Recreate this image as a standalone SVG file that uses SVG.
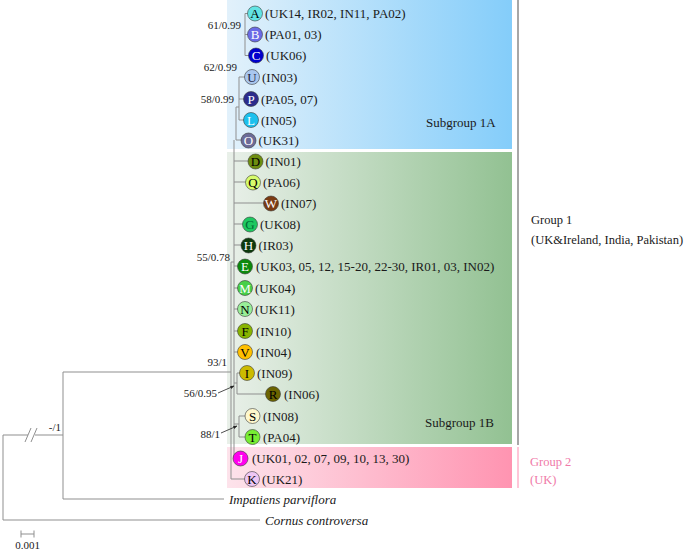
<svg xmlns="http://www.w3.org/2000/svg" width="685" height="551" viewBox="0 0 685 551">
<defs>
<linearGradient id="gBlue" x1="0" y1="0" x2="1" y2="0"><stop offset="0" stop-color="#e2f1fb"/><stop offset="1" stop-color="#84cdfa"/></linearGradient>
<linearGradient id="gGreen" x1="0" y1="0" x2="1" y2="0"><stop offset="0" stop-color="#e9f0e9"/><stop offset="1" stop-color="#92c192"/></linearGradient>
<linearGradient id="gPink" x1="0" y1="0" x2="1" y2="0"><stop offset="0" stop-color="#fde3eb"/><stop offset="1" stop-color="#ff94b1"/></linearGradient>
<marker id="arr" viewBox="0 0 10 10" refX="9" refY="5" markerWidth="5" markerHeight="5" orient="auto"><path d="M0,1 L10,5 L0,9 z" fill="#222"/></marker>
</defs>
<style>
text{font-family:"Liberation Serif","Times New Roman",serif;}
.t{font-size:13px;fill:#1a1a1a;}
.s{font-size:11px;fill:#1a1a1a;}
.g{font-size:12.5px;fill:#1a1a1a;}
.it{font-size:13px;font-style:italic;fill:#1a1a1a;}
.c{stroke:#3a3a3a;stroke-width:0.6;}
.l{font-size:13px;text-anchor:middle;}
.w{fill:#fff;}
.k{fill:#000;}
.br{stroke:#8f8f8f;stroke-width:1;fill:none;}
.ar{stroke:#222;stroke-width:0.8;fill:none;}
</style>
<rect x="0" y="0" width="685" height="551" fill="#fff"/>
<g id="boxes">
<rect x="227" y="0" width="285" height="149" fill="url(#gBlue)"/>
<rect x="227" y="152" width="285" height="292" fill="url(#gGreen)"/>
<rect x="227" y="447" width="285" height="41" fill="url(#gPink)"/>
</g>
<g id="groupbars">
<line x1="518" y1="0" x2="518" y2="445" stroke="#8a8a8a" stroke-width="1.5"/>
<line x1="518" y1="447" x2="518" y2="488" stroke="#ffb3cb" stroke-width="1.5"/>
</g>
<g id="connectors">
<path class="br" d="M245,13.5 V55.5 M245,13.5 H248 M245,34.5 H248 M245,55.5 H249"/>
<path class="br" d="M239,77 V120 M239,77 H245 M239,99 H244 M239,120 H244"/>
<path class="br" d="M236,107 V140 M236,107 H239 M236,140 H242"/>
<path class="br" d="M234,140 V458 M234,161 H248 M234,182 H246 M234,203 H264 M234,224 H243 M234,245 H241 M234,266 H238 M234,288 H238 M234,309 H238 M234,331 H238 M234,352 H238"/>
<path class="br" d="M231,262 V479 M231,479 H245 M231,262 H234"/>
<path class="br" d="M237,373 V394 M234,383 H237 M237,373 H240 M237,394 H266"/>
<path class="br" d="M239,416 V437 M234,424 H239 M239,416 H246 M239,437 H246"/>
<path class="br" d="M63,372 H231 M63,372 V499 M63,499 H224"/>
<path class="br" d="M3,435 V520 M3,435 H28 M35,435 H63 M3,520 H260"/>
<path class="br" d="M25,442 L31,428 M31,442 L37,428"/>
<path class="br" d="M21,534 H34 M21,530.5 V537.5 M34,530.5 V537.5"/>
<line class="ar" x1="218" y1="393" x2="234" y2="386" marker-end="url(#arr)"/>
<line class="ar" x1="221" y1="433" x2="237" y2="426" marker-end="url(#arr)"/>
</g>
<g id="support">
<text class="s" x="241" y="29" text-anchor="end">61/0.99</text>
<text class="s" x="237" y="71" text-anchor="end">62/0.99</text>
<text class="s" x="234" y="103" text-anchor="end">58/0.99</text>
<text class="s" x="230" y="261" text-anchor="end">55/0.78</text>
<text class="s" x="227" y="366" text-anchor="end">93/1</text>
<text class="s" x="217" y="397" text-anchor="end">56/0.95</text>
<text class="s" x="220" y="438" text-anchor="end">88/1</text>
<text class="s" x="61" y="431" text-anchor="end">-/1</text>
<text class="s" x="27.5" y="549" text-anchor="middle">0.001</text>
</g>
<g id="node-A"><circle class="c" cx="255" cy="13.5" r="7.5" fill="#62e4e4"/><text class="l k" x="255" y="18">A</text><text class="t" x="265" y="18">(UK14, IR02, IN11, PA02)</text></g>
<g id="node-B"><circle class="c" cx="255" cy="34.5" r="7.5" fill="#6b6be6"/><text class="l w" x="255" y="39">B</text><text class="t" x="265" y="39">(PA01, 03)</text></g>
<g id="node-C"><circle class="c" cx="256" cy="55.5" r="7.5" fill="#0000cc"/><text class="l w" x="256" y="60">C</text><text class="t" x="266" y="60">(UK06)</text></g>
<g id="node-U"><circle class="c" cx="252" cy="77" r="7.5" fill="#a9c7ef"/><text class="l" x="252" y="81.5" fill="#1a1a40">U</text><text class="t" x="262" y="81.5">(IN03)</text></g>
<g id="node-P"><circle class="c" cx="251" cy="99" r="7.5" fill="#2b2b8c"/><text class="l w" x="251" y="103.5">P</text><text class="t" x="261" y="103.5">(PA05, 07)</text></g>
<g id="node-L"><circle class="c" cx="251" cy="120" r="7.5" fill="#1cc0ee"/><text class="l w" x="251" y="124.5">L</text><text class="t" x="261" y="124.5">(IN05)</text></g>
<g id="node-O"><circle class="c" cx="248.5" cy="140.5" r="7.5" fill="#6b6b98"/><text class="l w" x="248.5" y="145">O</text><text class="t" x="258.5" y="145">(UK31)</text></g>
<g id="node-D"><circle class="c" cx="255.5" cy="161.5" r="7.5" fill="#6e8e10"/><text class="l k" x="255.5" y="166">D</text><text class="t" x="265.5" y="166">(IN01)</text></g>
<g id="node-Q"><circle class="c" cx="253" cy="182.5" r="7.5" fill="#d6fb6c"/><text class="l k" x="253" y="187">Q</text><text class="t" x="263" y="187">(PA06)</text></g>
<g id="node-W"><circle class="c" cx="271" cy="203.5" r="7.5" fill="#7a3b12"/><text class="l w" x="271" y="208">W</text><text class="t" x="281" y="208">(IN07)</text></g>
<g id="node-G"><circle class="c" cx="250" cy="224.5" r="7.5" fill="#1ec860"/><text class="l" x="250" y="229" fill="#063">G</text><text class="t" x="260" y="229">(UK08)</text></g>
<g id="node-H"><circle class="c" cx="248.5" cy="245.5" r="7.5" fill="#0c3a0c"/><text class="l w" x="248.5" y="250">H</text><text class="t" x="258.5" y="250">(IR03)</text></g>
<g id="node-E"><circle class="c" cx="245" cy="266.5" r="7.5" fill="#0c8a0c"/><text class="l w" x="245" y="271">E</text><text class="t" x="256" y="271">(UK03, 05, 12, 15-20, 22-30, IR01, 03, IN02)</text></g>
<g id="node-M"><circle class="c" cx="245" cy="288" r="7.5" fill="#48d048"/><text class="l w" x="245" y="292.5">M</text><text class="t" x="255" y="292.5">(UK04)</text></g>
<g id="node-N"><circle class="c" cx="245" cy="309" r="7.5" fill="#98ee98"/><text class="l k" x="245" y="313.5">N</text><text class="t" x="255" y="313.5">(UK11)</text></g>
<g id="node-F"><circle class="c" cx="245" cy="331" r="7.5" fill="#88b400"/><text class="l k" x="245" y="335.5">F</text><text class="t" x="256" y="335.5">(IN10)</text></g>
<g id="node-V"><circle class="c" cx="245" cy="352" r="7.5" fill="#ffc000"/><text class="l k" x="245" y="356.5">V</text><text class="t" x="256" y="356.5">(IN04)</text></g>
<g id="node-I"><circle class="c" cx="247" cy="373" r="7.5" fill="#ccbb00"/><text class="l k" x="247" y="377.5">I</text><text class="t" x="257" y="377.5">(IN09)</text></g>
<g id="node-R"><circle class="c" cx="273" cy="394" r="7.5" fill="#6b6300"/><text class="l k" x="273" y="398.5">R</text><text class="t" x="284" y="398.5">(IN06)</text></g>
<g id="node-S"><circle class="c" cx="252.5" cy="416" r="7.5" fill="#fff8cc"/><text class="l k" x="252.5" y="420.5">S</text><text class="t" x="263" y="420.5">(IN08)</text></g>
<g id="node-T"><circle class="c" cx="252.5" cy="437" r="7.5" fill="#77ee33"/><text class="l k" x="252.5" y="441.5">T</text><text class="t" x="263" y="441.5">(PA04)</text></g>
<g id="node-J"><circle class="c" cx="240.5" cy="458.5" r="7.5" fill="#ff00ee"/><text class="l w" x="240.5" y="463">J</text><text class="t" x="252" y="463">(UK01, 02, 07, 09, 10, 13, 30)</text></g>
<g id="node-K"><circle class="c" cx="252" cy="479" r="7.5" fill="#eec6f4"/><text class="l k" x="252" y="483.5">K</text><text class="t" x="262" y="483.5">(UK21)</text></g>
<g id="node-Impatiens"><text class="it" x="229" y="503.5">Impatiens parviflora</text></g>
<g id="node-Cornus"><text class="it" x="265" y="524.5">Cornus controversa</text></g>
<g id="labels">
<text class="t" x="426" y="127">Subgroup 1A</text>
<text class="t" x="425" y="427">Subgroup 1B</text>
<text class="g" x="531" y="224">Group 1</text>
<text class="g" x="531" y="244">(UK&amp;Ireland, India, Pakistan)</text>
<text class="g" x="530" y="466" style="fill:#f07aa8">Group 2</text>
<text class="g" x="530" y="484" style="fill:#f07aa8">(UK)</text>
</g>
</svg>
